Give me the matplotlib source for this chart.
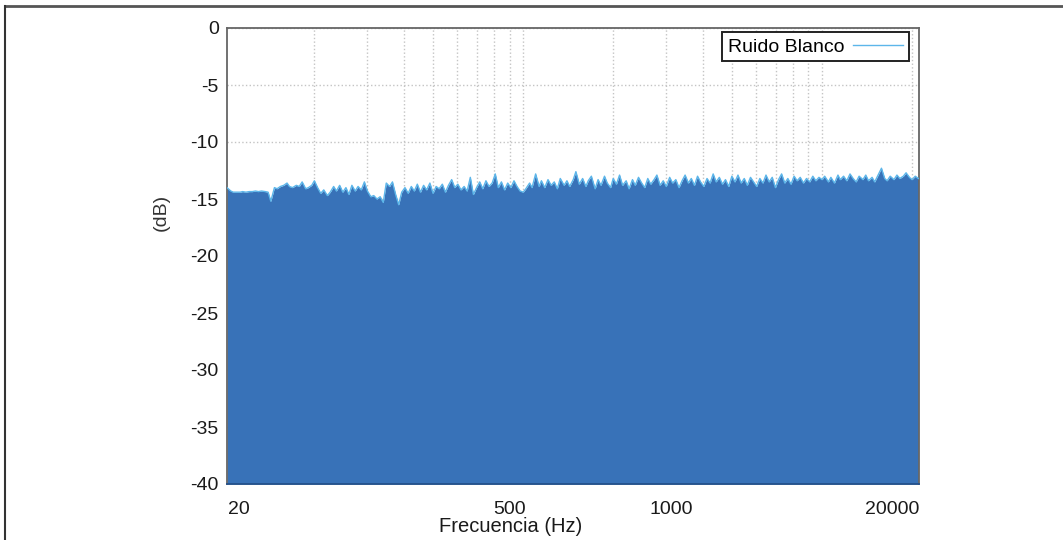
import matplotlib.pyplot as plt
from matplotlib.lines import Line2D
from matplotlib.ticker import FixedLocator, NullFormatter

plt.rcParams['font.family'] = ['Liberation Sans', 'DejaVu Sans']

# frequency bins (Hz) and measured level (dB) of the white noise
freqs = [
    102, 105, 107, 110, 113, 115, 118, 121, 124, 127, 130, 133, 137, 140, 143, 147,
    150, 154, 158, 162, 165, 169, 174, 178, 182, 187, 191, 196, 200, 205, 210, 215,
    221, 226, 232, 237, 243, 249, 255, 261, 267, 274, 280, 287, 294, 301, 309, 316,
    324, 332, 340, 348, 357, 365, 374, 383, 392, 402, 412, 422, 432, 442, 453, 464,
    475, 487, 499, 511, 523, 536, 549, 562, 576, 590, 604, 619, 634, 649, 665, 681,
    698, 715, 732, 750, 768, 787, 806, 825, 845, 866, 887, 909, 931, 953, 976,
    1000, 1020, 1050, 1070, 1100, 1130, 1150, 1180, 1210, 1240, 1270, 1300, 1330, 1370,
    1400, 1430, 1470, 1500, 1540, 1580, 1620, 1650, 1690, 1740, 1780, 1820, 1870, 1910,
    1960, 2000, 2050, 2100, 2150, 2210, 2260, 2320, 2370, 2430, 2490, 2550, 2610, 2670,
    2740, 2800, 2870, 2940, 3010, 3090, 3160, 3240, 3320, 3400, 3480, 3570, 3650, 3740,
    3830, 3920, 4020, 4120, 4220, 4320, 4420, 4530, 4640, 4750, 4870, 4990, 5110, 5230,
    5360, 5490, 5620, 5760, 5900, 6040, 6190, 6340, 6490, 6650, 6810, 6980, 7150, 7320,
    7500, 7680, 7870, 8060, 8250, 8450, 8660, 8870, 9090, 9310, 9530, 9760,
    10000, 10200, 10500, 10700, 11000, 11300, 11500, 11800, 12100, 12400, 12700, 13000,
    13300, 13700, 14000, 14300, 14700, 15000, 15400, 15800, 16200, 16500, 16900, 17400,
    17800, 18200, 18700, 19100, 19600, 20000, 20500, 21000,
]
level_db = [
    -14.0, -14.3, -14.4, -14.4, -14.4, -14.35, -14.4, -14.35, -14.35, -14.3, -14.35, -14.3,
    -14.35, -14.4, -15.2, -14.0, -14.1, -13.9, -13.8, -13.6, -13.9, -14.0, -13.8, -13.9,
    -13.5, -14.1, -14.0, -13.8, -13.4, -14.0, -14.5, -14.2, -14.7, -14.4, -13.9, -14.3,
    -13.8, -14.4, -14.0, -14.6, -13.8, -14.3, -13.9, -14.2, -13.5, -14.3, -14.8, -14.7,
    -15.0, -14.8, -15.3, -13.6, -13.9, -13.5, -14.6, -15.5, -14.4, -14.0, -14.5, -13.9,
    -14.3, -13.7, -14.4, -13.8, -14.2, -13.6, -14.5, -13.9, -14.1, -13.7, -14.4, -13.8,
    -13.3, -14.0, -13.7, -14.2, -13.9, -14.3, -13.1, -14.6, -14.0, -13.5, -14.1, -13.4,
    -13.9, -13.6, -12.8, -14.0, -13.5, -14.2, -13.6, -14.0, -13.4, -13.9, -14.3,
    -14.4, -14.1, -13.6, -14.0, -12.8, -13.9, -13.4, -14.0, -13.3, -13.8, -13.5, -14.1,
    -13.2, -13.8, -13.4, -13.9, -13.3, -12.6, -13.7, -13.2, -13.9, -13.4, -13.0, -14.1,
    -13.3, -13.8, -13.0, -13.6, -14.0, -13.2, -13.7, -12.9, -13.8, -13.4, -14.1, -13.3,
    -13.8, -13.1, -13.6, -14.0, -13.2, -13.7, -13.3, -12.9, -13.8, -13.4, -13.9, -13.1,
    -13.6, -13.3, -14.0, -13.4, -12.9, -13.6, -13.2, -13.8, -13.0, -13.5, -13.9, -13.2,
    -13.6, -12.8, -13.5, -13.1, -13.7, -13.3, -13.9, -13.0, -13.5, -12.9, -13.6, -13.2,
    -13.8, -13.1, -13.5, -13.9, -13.2, -13.6, -12.9, -13.5, -13.1, -14.0, -13.3, -12.8,
    -13.6, -13.2, -13.7, -13.0, -13.4, -13.1, -13.6, -13.2, -13.5, -13.0, -13.4, -13.1,
    -13.3, -13.0, -13.5, -13.1, -13.6, -12.9, -13.3, -13.0, -13.4, -12.8, -13.2, -13.5,
    -13.0, -13.3, -12.9, -13.4, -13.1, -13.5, -12.9, -12.3, -13.2, -13.4, -13.0, -13.3,
    -12.9, -13.2, -13.0, -12.7, -13.1, -13.3, -13.0, -13.2,
]

# tick labels as printed on the original chart, and where they sit
xtick_pos = [112, 898, 3130, 17200]
xtick_labels = ['20', '500', '1000', '20000']
grid_freqs = [200, 300, 400, 500, 600, 700, 800, 900, 1000,
              2000, 3000, 4000, 5000, 6000, 7000, 8000, 9000, 10000, 20000]
yticks = [0, -5, -10, -15, -20, -25, -30, -35, -40]

fig = plt.figure(figsize=(10.63, 5.40), dpi=100)
ax = fig.add_axes([227 / 1063, 1 - 484 / 540, 692 / 1063, 456 / 540])

ax.fill_between(freqs, level_db, -40, color='#3872b8', lw=0, zorder=2)
ax.plot(freqs, level_db, color='#5cb6ea', lw=1.0, zorder=3, label='Ruido Blanco')

ax.set_xscale('log')
ax.set_xlim(102, 21100)
ax.set_ylim(-40, 0)

ax.xaxis.set_major_locator(FixedLocator(xtick_pos))
ax.set_xticklabels(xtick_labels)
ax.xaxis.set_minor_locator(FixedLocator(grid_freqs))
ax.xaxis.set_minor_formatter(NullFormatter())
ax.set_yticks(yticks)
ax.set_yticklabels([str(v) for v in yticks])
ax.tick_params(which='both', length=0, labelsize=14, colors='#1a1a1a')
ax.tick_params(axis='x', pad=12)
ax.tick_params(axis='y', pad=6)

ax.set_axisbelow(True)
ax.grid(which='minor', axis='x', color='#c4c4c4', linestyle=':', lw=1.0)
ax.grid(which='major', axis='y', color='#c4c4c4', linestyle=':', lw=1.0)
ax.grid(which='major', axis='x', visible=False)

for side in ['left', 'top', 'right']:
    ax.spines[side].set_color('#666666')
    ax.spines[side].set_linewidth(1.3)
ax.spines['bottom'].set_color('#24508a')
ax.spines['bottom'].set_linewidth(1.3)

leg = ax.legend(loc='upper right', bbox_to_anchor=(0.9855, 0.991), borderaxespad=0,
                markerfirst=False, fancybox=False, frameon=True, framealpha=1,
                edgecolor='#222222', fontsize=14, handlelength=2.6,
                handletextpad=0.4, borderpad=0.3)
leg.get_frame().set_linewidth(1.4)

fig.text(511 / 1063, 1 - 527 / 540, 'Frecuencia (Hz)', ha='center', va='center',
         fontsize=14.5, color='#1a1a1a')
fig.text(161 / 1063, 1 - 212 / 540, '(dB)', ha='center', va='center',
         rotation=90, fontsize=14, color='#333333')

# outer frame lines of the original picture
fig.add_artist(Line2D([5 / 1063, 1], [1 - 6 / 540, 1 - 6 / 540], color='#555555', lw=2))
fig.add_artist(Line2D([5 / 1063, 5 / 1063], [0, 1 - 6 / 540], color='#333333', lw=1.5))

fig.savefig('out.png', dpi=100)
